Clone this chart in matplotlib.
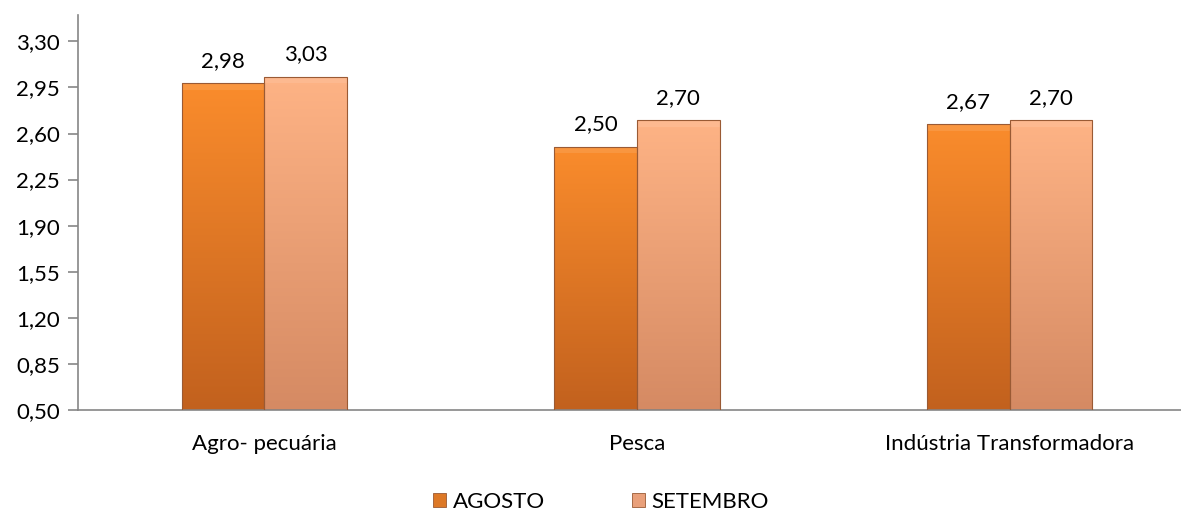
import matplotlib
matplotlib.use("Agg")
import matplotlib.pyplot as plt
import numpy as np
from matplotlib.colors import LinearSegmentedColormap
from matplotlib.patches import Rectangle

categories = ["Agro- pecuária", "Pesca", "Indústria Transformadora"]
series_names = ["AGOSTO", "SETEMBRO"]
agosto = [2.98, 2.50, 2.67]
setembro = [3.03, 2.70, 2.70]
yticks = [0.50, 0.85, 1.20, 1.55, 1.90, 2.25, 2.60, 2.95, 3.30]

plt.rcParams['font.family'] = ['Lato', 'DejaVu Sans']

W, H = 1181, 513
fig = plt.figure(figsize=(W / 100, H / 100), dpi=100)
left_px, right_px, top_px, bot_px = 78, 1196, 15, 410
ax = fig.add_axes([left_px / W, (H - bot_px) / H, (right_px - left_px) / W, (bot_px - top_px) / H])

x = np.arange(len(categories))
bw = 0.222
grads = [("#FA8C2C", "#C2611E"), ("#FEB385", "#D58A63")]
legend_cols = ["#DD7826", "#E9A07A"]
series = [agosto, setembro]
offsets = [-bw / 2, bw / 2]

ax.set_xlim(-0.5, len(categories) - 0.5)
ax.set_ylim(0.5, 3.5)

FS = 16

for s, vals in enumerate(series):
    bars = ax.bar(x + offsets[s], np.array(vals) - 0.5, bw, bottom=0.5,
                  color="none", edgecolor="#9A5A34", linewidth=0.8, zorder=3)
    cmap = LinearSegmentedColormap.from_list("g%d" % s, [grads[s][1], grads[s][0]])
    grad = np.linspace(0, 1, 256).reshape(-1, 1)
    for b in bars:
        x0, y0 = b.get_x(), b.get_y()
        w, h = b.get_width(), b.get_height()
        im = ax.imshow(grad, cmap=cmap, origin="lower", aspect="auto",
                       extent=(x0, x0 + w, y0, y0 + h), zorder=2, interpolation="bicubic")
        im.set_clip_path(b)
        hl = Rectangle((x0, y0 + h - 0.05), w, 0.05, facecolor="white", alpha=0.10,
                       edgecolor="none", zorder=2.5)
        ax.add_patch(hl)
    labels = [f"{v:.2f}".replace(".", ",") for v in vals]
    ax.bar_label(bars, labels=labels, padding=9, fontsize=FS, color="#000000")

ax.set_yticks(yticks)
ax.set_yticklabels([f"{v:.2f}".replace(".", ",") for v in yticks], fontsize=FS)
ax.set_xticks(x)
ax.set_xticklabels(categories, fontsize=FS)
ax.tick_params(axis="x", length=0, pad=17)
ax.tick_params(axis="y", length=7, color="#868686", width=1.2, pad=6)

for sp in ["top", "right"]:
    ax.spines[sp].set_visible(False)
for sp in ["left", "bottom"]:
    ax.spines[sp].set_color("#868686")
    ax.spines[sp].set_linewidth(1.2)

handles = [Rectangle((0, 0), 1, 1, facecolor=legend_cols[i], edgecolor="#9A5A34", linewidth=0.6)
           for i in range(2)]
fig.legend(handles, series_names, loc="center", bbox_to_anchor=(601 / W, 0.022),
           ncol=2, frameon=False, fontsize=FS, handlelength=0.6, handleheight=0.6,
           handletextpad=0.3, columnspacing=3.9, borderpad=0.0)

fig.savefig("out.png", dpi=100)
